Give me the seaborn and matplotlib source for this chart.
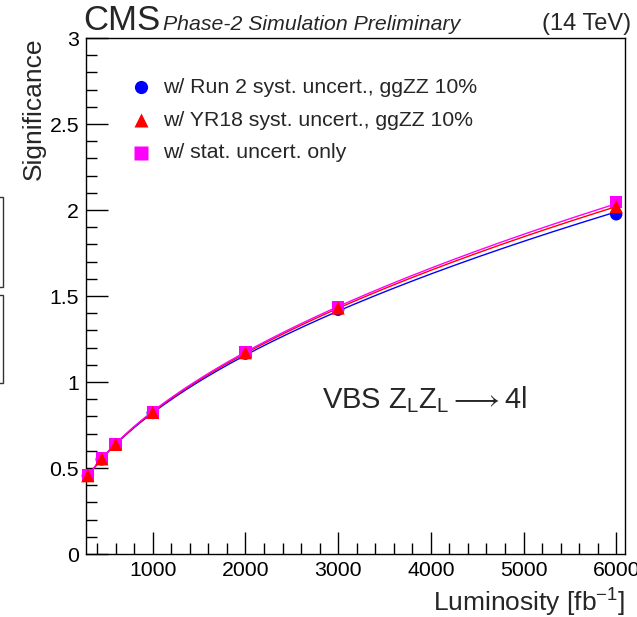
import numpy as np
import pandas as pd
import matplotlib
matplotlib.use("Agg")
import matplotlib.pyplot as plt
from matplotlib.ticker import MultipleLocator
from matplotlib.patches import Rectangle
import seaborn as sns

# Integrated luminosity points (fb^-1)
luminosity = [300, 450, 600, 1000, 2000, 3000, 6000]

# Expected significance for each uncertainty scenario
sig_run2 = [0.455, 0.550, 0.635, 0.820, 1.165, 1.420, 1.975]
sig_yr18 = [0.455, 0.553, 0.637, 0.823, 1.170, 1.430, 2.020]
sig_stat = [0.457, 0.555, 0.640, 0.826, 1.175, 1.435, 2.045]

labels = [
    "w/ Run 2 syst. uncert., ggZZ 10%",
    "w/ YR18 syst. uncert., ggZZ 10%",
    "w/ stat. uncert. only",
]
colors = ["#0000ff", "#ff0000", "#ff00ff"]
markers = ["o", "^", "s"]
series = [sig_run2, sig_yr18, sig_stat]

sns.set_theme(style="ticks")
plt.rcParams["font.family"] = ["Liberation Sans", "DejaVu Sans"]
plt.rcParams["mathtext.fontset"] = "custom"
plt.rcParams["mathtext.rm"] = "Liberation Sans"
plt.rcParams["mathtext.it"] = "Liberation Sans:italic"

fig = plt.figure(figsize=(6.37, 6.17), dpi=100)
ax = fig.add_axes([86 / 637, 1 - 554 / 617, 539 / 637, 516 / 617])

# Power-law fit S = a * L^b for each scenario, drawn as a smooth curve
grid = np.linspace(luminosity[0], luminosity[-1], 200)
for vals, col in zip(series, colors):
    b, loga = np.polyfit(np.log(luminosity), np.log(vals), 1)
    fit = pd.DataFrame({"lumi": grid, "sig": np.exp(loga) * grid ** b})
    sns.lineplot(data=fit, x="lumi", y="sig", color=col, lw=1.0, ax=ax, zorder=2)

# Points: blue first, then magenta squares, red triangles on top
order = [0, 2, 1]
sizes = {"o": 80, "^": 90, "s": 80}
for i in order:
    df = pd.DataFrame({"lumi": luminosity, "sig": series[i]})
    sns.scatterplot(data=df, x="lumi", y="sig", marker=markers[i], color=colors[i],
                    s=sizes[markers[i]], edgecolor="none", ax=ax, zorder=3 + order.index(i),
                    clip_on=False)

ax.set_xlim(280, 6095)
ax.set_ylim(0, 3)
ax.xaxis.set_major_locator(MultipleLocator(1000))
ax.xaxis.set_minor_locator(MultipleLocator(200))
ax.yaxis.set_major_locator(MultipleLocator(0.5))
ax.yaxis.set_minor_locator(MultipleLocator(0.1))
ax.tick_params(which="both", direction="in", top=False, right=False,
               labelsize=15.3, colors="black", width=1.0, pad=5)
ax.tick_params(which="major", length=16)
ax.tick_params(which="minor", length=8)
ax.set_yticks([0, 0.5, 1, 1.5, 2, 2.5, 3])
ax.set_yticklabels(["0", "0.5", "1", "1.5", "2", "2.5", "3"])
for s in ax.spines.values():
    s.set_color("black")
    s.set_linewidth(1.0)
    s.set_visible(True)

ax.set_xlabel(r"Luminosity [fb$^{\mathregular{-1}}$]", fontsize=19, ha="right")
ax.xaxis.set_label_coords(1.0, -0.064)
ax.set_ylabel("Significance", fontsize=19, ha="right")
ax.yaxis.set_label_coords(-0.075, 1.0)

# Legend
leg_y = [0.905, 0.841, 0.778]
for i, y in enumerate(leg_y):
    ax.plot([0.102], [y], marker=markers[i], color=colors[i], ms=9.5 if markers[i] != "^" else 10,
            mec="none", transform=ax.transAxes, ls="none", clip_on=False)
    ax.text(0.142, y, labels[i], transform=ax.transAxes, fontsize=15.3, va="center", ha="left")

# Process label
ax.text(0.437, 0.30, r"VBS Z$_{\mathregular{L}}$Z$_{\mathregular{L}}\longrightarrow$4l",
        transform=ax.transAxes, fontsize=21, va="center", ha="left")

# Header
fig.text(83 / 637, 1 - 30 / 617, "CMS", fontsize=25, ha="left", va="baseline")
fig.text(163 / 637, 1 - 30 / 617, "Phase-2 Simulation Preliminary", fontsize=15.3,
         style="italic", ha="left", va="baseline")
fig.text(631 / 637, 1 - 30 / 617, "(14 TeV)", fontsize=17, ha="right", va="baseline")

# Frame edges at the left border
for top, bot in [(197, 287), (295, 383)]:
    fig.patches.append(Rectangle((-10 / 637, 1 - bot / 617), 13 / 637, (bot - top) / 617,
                                 transform=fig.transFigure, fill=False, ec="#333333", lw=1.0))

fig.savefig("out.png", dpi=100)
